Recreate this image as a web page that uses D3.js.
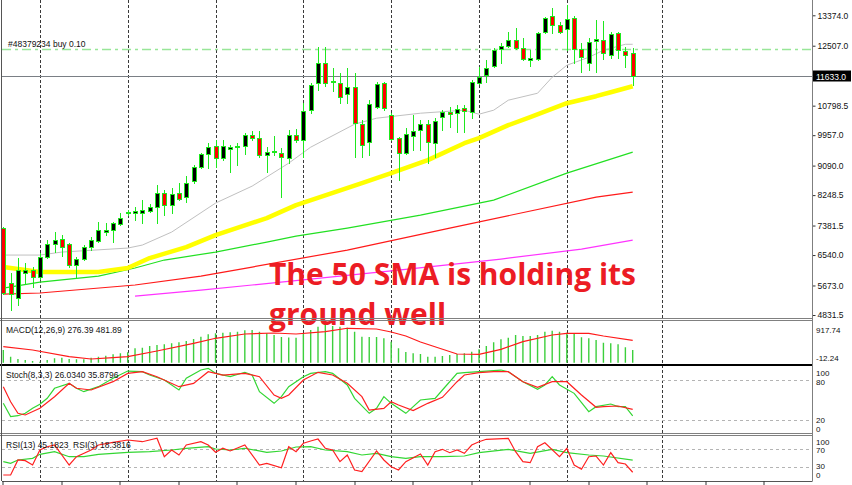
<!DOCTYPE html>
<html><head><meta charset="utf-8">
<script src="https://cdn.jsdelivr.net/npm/d3@7"></script>
<style>
html,body{margin:0;padding:0;background:#fff;}
svg{display:block;}
</style></head>
<body>
<svg id="chart" width="852" height="485"></svg>
<script>
// ---------- DATA ----------
const opens  = [7309,5743,5316,6027,6113,5914,6483,6853,6996,6853,6255,6426,6768,6939,7195,7252,7423,7736,7736,7736,7793,7907,8305,7964,8305,8192,8647,9046,9416,9644,9302,9558,9615,9644,9957,9872,9387,9473,9444,9302,9957,9815,10669,11438,12007,11466,11438,11124,11324,10270,9758,10754,11438,10526,9872,9444,9929,10099,10270,9729,10470,10612,10583,10726,10612,11438,11666,11922,12406,12491,12662,12434,12093,12121,12890,13345,13089,12975,13289,12406,12007,12634,12662,12235,12861,12349,12292];
const highs  = [7330,6027,6455,6312,6198,6597,6967,7195,7110,6882,6483,6825,7053,7480,7451,7480,7736,7821,7907,8106,7992,8533,8391,8448,8590,8790,9103,9444,9729,9815,9815,9672,9729,10014,10071,10071,9615,9929,9587,10099,10128,10868,11438,12463,12463,11865,11722,11865,11722,10384,10954,11466,11466,10583,9900,10156,10526,10384,10384,10441,10669,10754,10811,10811,11523,11893,12093,12434,12577,12890,13004,12719,12377,12890,13317,13573,13175,13659,13345,12577,12719,13232,13203,12890,12890,12463,12434];
const lows   = [5430,4974,5116,5743,5629,5857,6455,6625,6512,6198,5885,6398,6682,6910,7110,6910,7394,7679,7537,7451,7764,7451,7679,7736,8106,8049,8590,9017,9017,9046,9245,8903,9103,9416,9815,9331,8903,9387,8192,9160,9758,9331,10583,11238,11352,11210,10868,10868,9331,9331,9387,10726,10669,9815,8676,9416,9530,9530,9160,9331,10099,10185,10042,10042,10441,11409,11466,11893,12007,12463,12406,12093,11922,12093,12861,12861,12861,12377,12007,11751,11808,11751,12121,12150,12150,11893,11381];
const closes = [5460,5429,6113,6113,5914,6483,6853,6967,6768,6255,6426,6768,6967,7252,7252,7451,7594,7764,7793,7821,7907,8305,7964,8277,8135,8590,9046,9416,9615,9302,9644,9615,9644,9957,9872,9387,9473,9501,9331,9957,9815,10640,11381,12007,11438,11495,11039,11324,10299,9672,10840,11409,10726,9843,9444,9985,10071,10270,9758,10356,10612,10555,10697,10640,11466,11609,11865,12377,12491,12662,12434,12121,12150,12861,13289,13089,12890,13260,12406,12178,12605,12691,12292,12833,12377,12235,11633];

// moving averages as [candle index, price]
const sma20  = [[0,6540],[5,6540],[8,6625],[17,6739],[19,6825],[23,7195],[29,8021],[34,8505],[39,9160],[42,9615],[48,10270],[51,10441],[57,10583],[63,10669],[65,10555],[67,10669],[69,10954],[73,11153],[75,11609],[77,11950],[80,12178],[82,12377],[85,12548],[86,12548]];
const sma50  = [[0,6198],[5,6056],[13,6056],[17,6170],[20,6455],[25,6768],[29,7110],[36,7594],[40,7964],[49,8590],[53,8875],[58,9245],[63,9729],[65,9872],[69,10242],[72,10470],[77,10868],[81,11068],[83,11181],[86,11352]];
const sma100 = [[0,5600],[5,5771],[13,5942],[18,6170],[22,6398],[29,6625],[36,6910],[40,7081],[47,7309],[57,7679],[67,8106],[77,8875],[86,9473]];
const sma200 = [[0,5429],[5,5458],[18,5686],[27,5942],[34,6198],[47,6682],[61,7309],[81,8192],[86,8334]];
const smaLong = [[18,5372],[27,5543],[34,5686],[54,6113],[68,6426],[79,6711],[86,6967]];

const currentPrice = 11633.0;
const orderPrice = 12420;
const orderLabel = "#48379234 buy 0.10";
const priceTicks = [13374.0,12507.0,10798.5,9957.0,9090.0,8248.5,7381.5,6540.0,5673.0,4831.5];
const gridIdx = [5,17,29,41,53,65,77,90];
const timeTicks = [0,8,16,24,32,40,48,56,64,72,80,88,96,104];

// MACD
const macdHist = [274,130,80,59,37,22,59,95,108,80,74,74,108,130,151,181,203,224,310,323,360,381,396,418,439,467,510,559,611,632,645,654,667,697,703,667,632,596,553,542,538,632,703,774,811,789,774,753,667,559,553,553,525,452,310,231,203,188,130,130,145,166,188,203,237,289,360,439,503,538,596,574,574,596,667,688,667,645,632,546,525,488,430,418,396,332,276];
const macdSignal = [[0,344],[4,274],[9,130],[12,80],[15,108],[17,130],[21,252],[26,417],[29,525],[33,617],[37,639],[40,617],[44,667],[47,740],[51,725],[53,660],[55,574],[57,445],[62,188],[65,181],[68,288],[71,452],[75,596],[77,632],[80,632],[82,574],[86,481.89]];
const macdRange = [-12.24, 917.74];
const macdLabels = ["917.74", "-12.24"];

// Stochastic
const stochMain = [[0,45],[1,25],[2,26.4],[3,30],[4,37.5],[5,43.5],[6,52.6],[7,67.6],[9,75],[10,67.6],[11,62.5],[13,70],[15,82.6],[17,93.5],[19,92.5],[20,87.5],[22,80],[24,65],[25,82.6],[27,95],[28,97.6],[29,90],[31,85],[33,91.6],[34,87.5],[35,62.5],[37,45],[38,55],[39,70],[41,85],[42,90],[44,92.5],[45,90],[47,72.5],[48,52.5],[50,30],[51,37.5],[52,55],[53,45],[55,30],[57,50],[59,52.5],[60,65],[62,90],[63,91],[65,92.5],[68,95],[69,92.5],[71,77.5],[73,66],[74,72.5],[75,85],[76,72.5],[78,60],[80,32.4],[81,40],[83,44],[84,40],[85,40],[86,26.034]];
const stochSignal = [[0,70],[1,47.4],[2,30],[3,27.5],[5,37.5],[7,55],[9,75],[10,67.6],[12,65],[15,77.5],[17,90],[19,92.5],[21,85],[24,70],[26,75],[28,92.5],[30,87.5],[33,90],[35,85],[37,57.5],[38,52.5],[39,57.5],[41,80],[43,91.6],[45,87.5],[47,75],[49,55],[50,35],[52,37.5],[53,47.4],[54,42.5],[56,34],[58,45],[60,54],[62,77.5],[63,87.5],[65,91],[67,92.5],[69,92.5],[71,77.5],[73,69],[75,77.5],[77,77.5],[79,57.5],[81,39],[82,40],[84,41],[86,35.8796]];
const stochLevels = [80,20];

// RSI
const rsi13 = [[0,41.8],[1,38.2],[2,45.6],[4,49.3],[5,58.2],[7,64],[9,52.9],[11,52.9],[13,58.2],[17,62.7],[20,64],[23,67.8],[25,71.6],[28,75.1],[29,70],[31,67.8],[33,71.6],[36,62.7],[38,65.6],[40,74.4],[42,75.1],[44,67.8],[47,64],[49,56.7],[51,60.4],[53,52.9],[55,49.3],[57,52.9],[60,52.9],[63,54.4],[65,61.8],[69,69.3],[72,60.4],[75,69.3],[77,61.8],[80,56.7],[82,54.4],[86,45.1823]];
const rsi3 = [[0,12.2],[1,12.2],[2,45.6],[3,44],[4,34.4],[5,67.8],[6,75.1],[7,78.9],[9,34.4],[10,52.9],[12,67.8],[13,78.9],[15,84.9],[17,90],[19,86.2],[21,93.8],[22,52.9],[23,67.8],[24,56.7],[25,78.9],[27,86.2],[28,78.9],[29,62.7],[30,71.6],[31,65.6],[33,78.9],[35,34.4],[36,38.2],[38,28.4],[39,75.1],[40,64],[41,82.7],[42,87.8],[43,92.2],[44,71.6],[45,67.8],[46,41.8],[47,56.7],[48,23.3],[49,19.6],[51,65.6],[52,45.6],[53,30.7],[54,23.3],[55,41.8],[57,58.9],[58,34.4],[59,64],[60,69.3],[61,61.8],[62,67.8],[63,60.4],[64,78.9],[65,86.2],[66,91.6],[69,93.8],[70,64],[71,41.8],[72,39.6],[73,75.1],[74,84],[76,52.9],[77,71.6],[78,34.4],[79,24.9],[80,52.9],[81,54.4],[82,34.4],[83,61.8],[84,39.6],[85,36.7],[86,18.3816]];
const rsiLevels = [70,30];

const macdTitle = "MACD(12,26,9) 276.39 481.89";
const stochTitle = "Stoch(8,3,3) 26.0340 35.8796";
const rsiTitle = "RSI(13) 45.1823  RSI(3) 18.3816";
const annotation = ["The 50 SMA is holding its", "ground well"];

// ---------- DRAW ----------
const FONT = "'Liberation Sans', Arial, sans-serif";
const svg = d3.select('#chart').style('font-family', FONT);
const AX = 812.5;

const x = d3.scaleLinear().domain([0, 86]).range([3.3, 632.7]);
const yP = d3.scaleLinear().domain([4831.5, 13374]).range([315, 15.3]);
const yM = d3.scaleLinear().domain(macdRange).range([363.3, 320]);
const yS = d3.scaleLinear().domain([0, 100]).range([433.3, 366.7]);
const yR = d3.scaleLinear().domain([0, 100]).range([480.5, 435.5]);

const defs = svg.append('defs');
function clip(id, y0, y1) {
  defs.append('clipPath').attr('id', id).append('rect')
    .attr('x', 2).attr('y', y0).attr('width', AX - 2).attr('height', y1 - y0);
  return 'url(#' + id + ')';
}
const cMain = clip('cm', 0, 318);
const cMacd = clip('cd', 321, 364);
const cSto = clip('cs', 366, 433);
const cRsi = clip('cr', 436, 481);

const px = i => Math.round(x(i)) + 0.5;

// vertical dashed grid
const grid = svg.append('g');
gridIdx.forEach(i => {
  grid.append('line').attr('x1', px(i)).attr('x2', px(i)).attr('y1', 0).attr('y2', 481)
    .attr('stroke', '#3a3a3a').attr('stroke-width', 1).attr('stroke-dasharray', '3,2')
    .attr('shape-rendering', 'crispEdges');
});

// level lines
stochLevels.forEach(v => {
  const yy = Math.round(yS(v)) + 0.5;
  svg.append('line').attr('x1', 2).attr('x2', AX).attr('y1', yy).attr('y2', yy)
    .attr('stroke', '#b4b4b4').attr('stroke-dasharray', '3,3').attr('shape-rendering', 'crispEdges');
});
rsiLevels.forEach(v => {
  const yy = Math.round(yR(v)) + 0.5;
  svg.append('line').attr('x1', 2).attr('x2', AX).attr('y1', yy).attr('y2', yy)
    .attr('stroke', '#b4b4b4').attr('stroke-dasharray', '3,3').attr('shape-rendering', 'crispEdges');
});

// main panel
const main = svg.append('g').attr('clip-path', cMain);
const cpY = Math.round(yP(currentPrice)) + 0.5;
main.append('line').attr('x1', 2).attr('x2', AX).attr('y1', cpY).attr('y2', cpY)
  .attr('stroke', '#7a7f85').attr('stroke-width', 1);
const opY = Math.round(yP(orderPrice)) + 0.5;
main.append('line').attr('x1', 2).attr('x2', AX).attr('y1', opY).attr('y2', opY)
  .attr('stroke', '#98e698').attr('stroke-width', 1.4).attr('stroke-dasharray', '9,4,3,4');
main.append('text').attr('x', 8).attr('y', opY - 2.5).text(orderLabel)
  .attr('font-size', '8.5px').attr('fill', '#111');

const lineP = d3.line().x(d => x(d[0])).y(d => yP(d[1]));
main.append('path').datum(smaLong).attr('d', lineP).attr('fill', 'none').attr('stroke', '#ff33ff').attr('stroke-width', 1.2);
main.append('path').datum(sma200).attr('d', lineP).attr('fill', 'none').attr('stroke', '#ff1a1a').attr('stroke-width', 1.2);
main.append('path').datum(sma100).attr('d', lineP).attr('fill', 'none').attr('stroke', '#22e022').attr('stroke-width', 1.2);
main.append('path').datum(sma20).attr('d', lineP).attr('fill', 'none').attr('stroke', '#c0c0c0').attr('stroke-width', 1);
main.append('path').datum(sma50).attr('d', lineP).attr('fill', 'none').attr('stroke', '#ffff00').attr('stroke-width', 4.5).attr('stroke-linejoin', 'round');

// candles
const candles = main.append('g');
opens.forEach((o, i) => {
  const c = closes[i], h = highs[i], l = lows[i];
  const cx = px(i);
  candles.append('line').attr('x1', cx).attr('x2', cx)
    .attr('y1', Math.round(yP(h))).attr('y2', Math.round(yP(l)) + 1)
    .attr('stroke', '#1ee81e').attr('stroke-width', 1).attr('shape-rendering', 'crispEdges');
  const top = Math.round(yP(Math.max(o, c))) + 0.5;
  const bot = Math.round(yP(Math.min(o, c))) + 0.5;
  candles.append('rect').attr('x', cx - 2).attr('y', top).attr('width', 4)
    .attr('height', Math.max(bot - top, 1))
    .attr('fill', c >= o ? '#000000' : '#ff0000')
    .attr('stroke', '#1ee81e').attr('stroke-width', 1).attr('shape-rendering', 'crispEdges');
});

// MACD panel
const macdG = svg.append('g').attr('clip-path', cMacd);
macdHist.forEach((v, i) => {
  macdG.append('line').attr('x1', x(i)).attr('x2', x(i))
    .attr('y1', yM(0)).attr('y2', yM(v))
    .attr('stroke', '#3ccf3c').attr('stroke-width', 1.4);
});
const lineM = d3.line().x(d => x(d[0])).y(d => yM(d[1]));
macdG.append('path').datum(macdSignal).attr('d', lineM).attr('fill', 'none').attr('stroke', '#ff1a1a').attr('stroke-width', 1.2);

// Stoch panel
const stoG = svg.append('g').attr('clip-path', cSto);
const lineS = d3.line().x(d => x(d[0])).y(d => yS(d[1]));
stoG.append('path').datum(stochMain).attr('d', lineS).attr('fill', 'none').attr('stroke', '#33d633').attr('stroke-width', 1.2);
stoG.append('path').datum(stochSignal).attr('d', lineS).attr('fill', 'none').attr('stroke', '#ff2020').attr('stroke-width', 1.2);

// RSI panel
const rsiG = svg.append('g').attr('clip-path', cRsi);
const lineR = d3.line().x(d => x(d[0])).y(d => yR(d[1]));
rsiG.append('path').datum(rsi13).attr('d', lineR).attr('fill', 'none').attr('stroke', '#33d633').attr('stroke-width', 1.2);
rsiG.append('path').datum(rsi3).attr('d', lineR).attr('fill', 'none').attr('stroke', '#ff2020').attr('stroke-width', 1.2);

// panel titles
function title(t, yy) {
  svg.append('text').attr('x', 6).attr('y', yy).text(t)
    .attr('font-size', '8.5px').attr('fill', '#111').style('white-space', 'pre');
}
title(macdTitle, 333);
title(stochTitle, 378);
title(rsiTitle, 448);

// annotation
const ann = svg.append('g').attr('font-family', "'Open Sans', sans-serif").attr('font-weight', 700)
  .attr('font-size', '30px').attr('fill', '#ec1c24');
ann.append('text').attr('x', 269).attr('y', 285).text(annotation[0]);
ann.append('text').attr('x', 269).attr('y', 325).text(annotation[1]);

// separators / borders
function hline(yy, col, w) {
  svg.append('line').attr('x1', 0).attr('x2', AX).attr('y1', yy).attr('y2', yy)
    .attr('stroke', col).attr('stroke-width', w).attr('shape-rendering', 'crispEdges');
}
hline(318.5, '#808080', 1);
hline(320.5, '#808080', 1);
hline(365, '#000', 2);
hline(433.5, '#808080', 1);
hline(435.5, '#808080', 1);
svg.append('line').attr('x1', 1.5).attr('x2', 1.5).attr('y1', 0).attr('y2', 481)
  .attr('stroke', '#555').attr('shape-rendering', 'crispEdges');

// right price axis
const axR = svg.append('g').attr('transform', `translate(${AX},0)`)
  .call(d3.axisRight(yP).tickValues(priceTicks).tickFormat(d3.format('.1f')).tickSize(3).tickPadding(2));
axR.select('.domain').remove();
axR.selectAll('line').attr('stroke', '#333');
axR.selectAll('text').attr('font-size', '8.5px').attr('font-family', FONT).attr('fill', '#111');
svg.append('line').attr('x1', AX).attr('x2', AX).attr('y1', 0).attr('y2', 481)
  .attr('stroke', '#7f7f7f').attr('shape-rendering', 'crispEdges');

// current price box
svg.append('rect').attr('x', AX + 0.5).attr('y', cpY - 6).attr('width', 38).attr('height', 11).attr('fill', '#000');
svg.append('text').attr('x', AX + 3.5).attr('y', cpY + 3).text(d3.format('.1f')(currentPrice))
  .attr('font-size', '8.5px').attr('fill', '#fff');

// sub-window scale labels
function rlabel(t, cy) {
  svg.append('text').attr('x', AX + 3.5).attr('y', cy + 3).text(t)
    .attr('font-size', '8px').attr('fill', '#111');
}
rlabel(macdLabels[0], 330);
rlabel(macdLabels[1], 358);
rlabel('100', 372.5); rlabel('80', 381.5); rlabel('20', 419.5); rlabel('0', 428.5);
rlabel('100', 441.5); rlabel('70', 450); rlabel('30', 465.5); rlabel('0', 474.5);

// bottom time axis (ticks only, labels are below the visible area)
const axB = svg.append('g').attr('transform', 'translate(0,481)')
  .call(d3.axisBottom(x).tickValues(timeTicks).tickFormat('').tickSize(4));
axB.select('.domain').attr('d', `M2,0.5H${AX}`).attr('stroke', '#555');
axB.selectAll('.tick line').attr('stroke', '#333');
axB.selectAll('.tick').attr('transform', d => `translate(${px(d) - 0.5},0)`);
</script>
</body></html>
